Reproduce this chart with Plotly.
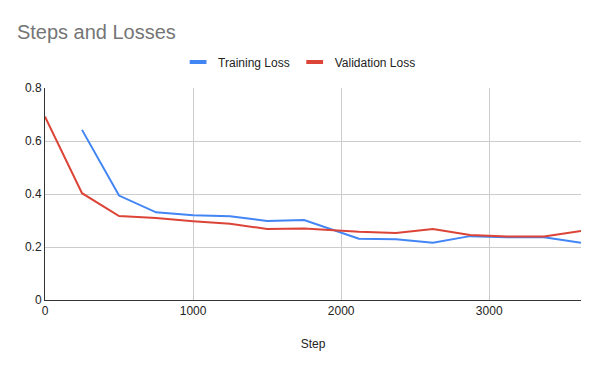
import plotly.graph_objects as go

steps_train = [250, 500, 750, 1000, 1250, 1500, 1750, 2120, 2370, 2620, 2870, 3120, 3370, 3620]
train_loss = [0.642, 0.394, 0.331, 0.320, 0.316, 0.298, 0.302, 0.231, 0.229, 0.216, 0.241, 0.237, 0.237, 0.216]
steps_val = [0, 250, 500, 750, 1000, 1250, 1500, 1750, 2120, 2370, 2620, 2870, 3120, 3370, 3620]
val_loss = [0.692, 0.403, 0.317, 0.309, 0.297, 0.288, 0.268, 0.270, 0.258, 0.253, 0.268, 0.245, 0.240, 0.240, 0.260]
x_ticks = [0, 1000, 2000, 3000]
y_ticks = [0, 0.2, 0.4, 0.6, 0.8]
y_tick_labels = ["0", "0.2", "0.4", "0.6", "0.8"]
series_names = ["Training Loss", "Validation Loss"]
series_colors = ["#4285F4", "#DB4437"]

fig = go.Figure()
fig.add_trace(go.Scatter(x=steps_train, y=train_loss, mode="lines", name=series_names[0],
                         line=dict(color=series_colors[0], width=2), showlegend=False))
fig.add_trace(go.Scatter(x=steps_val, y=val_loss, mode="lines", name=series_names[1],
                         line=dict(color=series_colors[1], width=2), showlegend=False))
# legend entries with short thick line swatches
for name, color in zip(series_names, series_colors):
    fig.add_trace(go.Scatter(x=[None], y=[None], mode="markers", name=name,
                             marker=dict(symbol="line-ew", size=12, color=color,
                                         line=dict(width=4, color=color)),
                             showlegend=True, hoverinfo="skip"))

fig.update_layout(
    width=592, height=363,
    paper_bgcolor="white", plot_bgcolor="white",
    margin=dict(l=37, r=19, t=80, b=71),
    font=dict(family="Arial, Liberation Sans, sans-serif", size=12, color="#222222"),
    title=dict(text="Steps and Losses", x=0.015, xanchor="left", y=0.934, yanchor="middle",
               font=dict(size=20, color="#757575")),
    legend=dict(orientation="h", x=0.475, xanchor="center", y=1.123, yanchor="middle",
                font=dict(size=12, color="#222222"), itemwidth=30, traceorder="normal"),
    showlegend=True,
)
fig.update_xaxes(range=[0, 3620], tickvals=x_ticks, ticktext=[str(v) for v in x_ticks],
                 showgrid=True, gridcolor="#cccccc", gridwidth=1,
                 showline=True, linecolor="#333333", linewidth=1, zeroline=False,
                 tickfont=dict(size=12, color="#222222"),
                 title=dict(text="Step", font=dict(size=12, color="#222222"), standoff=22))
fig.update_yaxes(range=[0, 0.8], tickvals=y_ticks, ticktext=y_tick_labels,
                 showgrid=True, gridcolor="#cccccc", gridwidth=1,
                 showline=True, linecolor="#333333", linewidth=1, zeroline=False,
                 tickfont=dict(size=12, color="#222222"), ticks="", ticklen=0)

fig.write_html("out.html")
